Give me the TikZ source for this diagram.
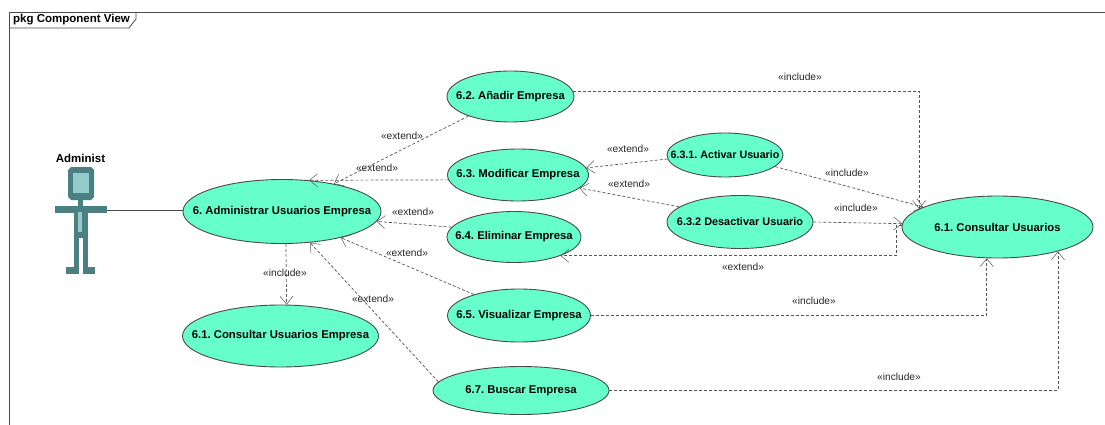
\documentclass[tikz,border=0pt]{standalone}
\usepackage{fontspec}
\setmainfont{Liberation Sans}
\usetikzlibrary{arrows.meta,shapes.geometric}
\definecolor{ucfill}{HTML}{66FFCC}
\definecolor{actdark}{HTML}{4A8080}
\definecolor{actlight}{HTML}{93CBCB}
\definecolor{linegrey}{HTML}{4A4A4A}
\definecolor{depgrey}{HTML}{555555}
\frenchspacing
\tikzset{
  usecase/.style={ellipse,draw=linegrey,line width=0.9pt,fill=ucfill,inner sep=0pt},
  uctext/.style={font=\fontsize{11.3}{13}\selectfont\bfseries,text=black,inner sep=0pt},
  boldtext/.style={font=\fontsize{11.5}{13}\selectfont\bfseries,text=black,inner sep=0pt},
  stereo/.style={font=\fontsize{10.2}{12}\selectfont,text=black!85,inner sep=0pt},
  dep/.style={draw=depgrey,line width=0.7pt,dash pattern=on 3pt off 2pt,-{Straight Barb[length=8pt,width=13pt,line width=0.5pt]}},
  actorpart/.style={fill=actdark,draw=none},
  actorlight/.style={fill=actlight,draw=none}
}
\newcommand{\uc}[6]{\node[usecase,minimum width=#3pt,minimum height=#4pt,label={[uctext]center:#6}] (#5) at (#1,#2) {};}
\begin{document}
\begin{tikzpicture}[x=1pt,y=-1pt]
\useasboundingbox (0,0) rectangle (1105,425);
% frame
\draw[linegrey,line width=0.8pt] (9,425) -- (9,12) -- (1105,12);
\draw[linegrey,line width=0.8pt] (9,28) -- (129,28) -- (136,19) -- (136,12);
\node[boldtext,anchor=west] (frametitle) at (13,20) {pkg Component View};
% actor
\node[boldtext] (actorname) at (80.5,158) {Administ};
\fill[actorpart] (71,167) -- (91,167) -- (94,170) -- (94,197) -- (91,200) -- (71,200) -- (68,197) -- (68,170) -- cycle;
\fill[actorlight] (73,173) rectangle (89,193);
\fill[actorpart] (78,200) rectangle (83,206);
\fill[actorpart] (55,206) rectangle (107,213);
\fill[actorpart] (74,213) rectangle (88,238);
\fill[actorlight] (78,212) rectangle (82,232);
\fill[actorpart] (74,238) rectangle (79,267);
\fill[actorpart] (83,238) rectangle (88,267);
\fill[actorpart] (66,267) rectangle (79,274);
\fill[actorpart] (83,267) rectangle (95,274);
\coordinate (hand) at (107,210);
% use cases
\uc{510.5}{96.5}{127}{51}{eb}{6.2. Añadir Empresa}
\uc{518}{175}{141}{52}{ec}{6.3. Modificar Empresa}
\uc{514}{237}{134}{51}{ed}{6.4. Eliminar Empresa}
\uc{282}{211.5}{198}{64}{ea}{6. Administrar Usuarios Empresa}
\uc{280.5}{336}{196}{62}{eu}{6.1. Consultar Usuarios Empresa}
\uc{519}{315.5}{143}{53}{ee}{6.5. Visualizar Empresa}
\uc{521}{390.5}{176}{48}{ef}{6.7. Buscar Empresa}
\uc{725}{155}{116}{44}{ca}{\fontsize{10.7}{13}\selectfont 6.3.1. Activar Usuario}
\uc{740}{222}{146}{53}{cb}{\fontsize{10.9}{13}\selectfont 6.3.2 Desactivar Usuario}
\uc{997.5}{227}{191}{62}{cu}{6.1. Consultar Usuarios}
% connectors
\draw[linegrey,line width=0.8pt] (hand) -- (hand -| ea.west);
\draw[dep] (eb.205.7) -- (ea.28.3);
\draw[dep] (ec.184.9) -- (ea.49.6);
\draw[dep] (ed.171.7) -- (ea.354.9);
\draw[dep] (ee.155) -- (ea.336.2);
\draw[dep] (ef.174.2) -- (ea.312.5);
\draw[dep] (ea.277.2) -- (eu.79.9);
\draw[dep] (ca.184.9) -- (ec.6.8);
\draw[dep] (cb.166.9) -- (ec.348.5);
\draw[dep] (eb.5.8) -| (cu.167);
\draw[dep] (ca.347) -- (cu.165);
\draw[dep] (cb.0) -- (cu.178);
\draw[dep] (cu.179) -- ++(-5,0) |- (ed.338.6);
\draw[dep] (ee.0) -| (cu.251.3);
\draw[dep] (ef.0) -| (cu.338);
% stereotypes
\node[stereo] (s1) at (800,77) {«include»};
\node[stereo] (s2) at (847,173) {«include»};
\node[stereo] (s3) at (856,208) {«include»};
\node[stereo] (s4) at (743,267) {«extend»};
\node[stereo] (s5) at (402,136) {«extend»};
\node[stereo] (s6) at (377,168) {«extend»};
\node[stereo] (s7) at (413,212) {«extend»};
\node[stereo] (s8) at (407,253) {«extend»};
\node[stereo] (s9) at (373,299) {«extend»};
\node[stereo] (s10) at (285,273) {«include»};
\node[stereo] (s11) at (814,301) {«include»};
\node[stereo] (s12) at (899,377) {«include»};
\node[stereo] (s13) at (628,149) {«extend»};
\node[stereo] (s14) at (629,184) {«extend»};
\end{tikzpicture}
\end{document}
